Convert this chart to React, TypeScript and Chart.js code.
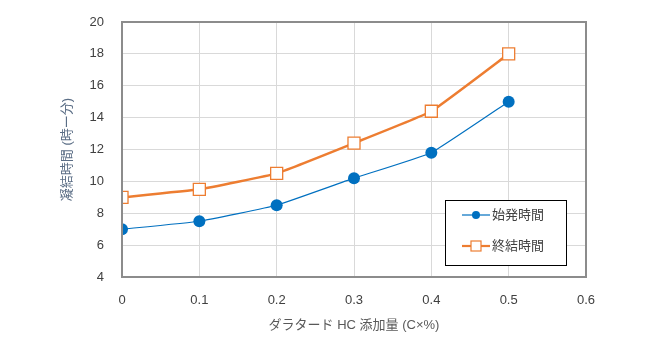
import React, { useEffect, useRef } from "react";
import { Chart, registerables } from "chart.js";

Chart.register(...registerables);

const xValues = [0, 0.1, 0.2, 0.3, 0.4, 0.5];
const initialSet = [7.0, 7.5, 8.5, 10.2, 11.8, 15.0];
const finalSet = [9.0, 9.5, 10.5, 12.4, 14.4, 18.0];
const seriesNames = ["始発時間", "終結時間"];
const xTitle = "ダラタード HC 添加量 (C×%)";
const yTitle = "凝結時間 (時ー分)";

const FONT = "'Liberation Sans', 'Noto Sans CJK JP', sans-serif";
const BLUE = "#0070C0";
const ORANGE = "#ED7D31";

const borderPlugin = {
  id: "plotBorder",
  afterDraw(chart: any) {
    const { ctx, chartArea } = chart;
    ctx.save();
    ctx.strokeStyle = "#8c8c8c";
    ctx.lineWidth = 2;
    ctx.strokeRect(chartArea.left, chartArea.top, chartArea.right - chartArea.left, chartArea.bottom - chartArea.top);
    ctx.restore();
  },
};

const legendPlugin = {
  id: "boxLegend",
  afterDraw(chart: any) {
    const { ctx } = chart;
    const x = 445, y = 200, w = 121, h = 65;
    ctx.save();
    ctx.fillStyle = "#ffffff";
    ctx.fillRect(x, y, w, h);
    ctx.strokeStyle = "#000000";
    ctx.lineWidth = 1;
    ctx.strokeRect(x + 0.5, y + 0.5, w, h);
    ctx.font = `13px ${FONT}`;
    ctx.textBaseline = "middle";
    const y1 = y + 15, y2 = y + 46;
    ctx.strokeStyle = BLUE;
    ctx.lineWidth = 1.2;
    ctx.beginPath();
    ctx.moveTo(462, y1);
    ctx.lineTo(490, y1);
    ctx.stroke();
    ctx.fillStyle = BLUE;
    ctx.beginPath();
    ctx.arc(476, y1, 4, 0, Math.PI * 2);
    ctx.fill();
    ctx.fillStyle = "#404040";
    ctx.fillText(seriesNames[0], 492, y1);
    ctx.strokeStyle = ORANGE;
    ctx.lineWidth = 2.2;
    ctx.beginPath();
    ctx.moveTo(462, y2);
    ctx.lineTo(490, y2);
    ctx.stroke();
    ctx.fillStyle = "#ffffff";
    ctx.fillRect(471, y2 - 5, 10, 10);
    ctx.lineWidth = 1.2;
    ctx.strokeRect(471, y2 - 5, 10, 10);
    ctx.fillStyle = "#404040";
    ctx.fillText(seriesNames[1], 492, y2);
    ctx.restore();
  },
};

export default function App() {
  const ref = useRef<HTMLCanvasElement>(null);
  useEffect(() => {
    if (!ref.current) return;
    const chart = new Chart(ref.current, {
      type: "line",
      data: {
        datasets: [
          {
            label: seriesNames[0],
            data: xValues.map((x, i) => ({ x, y: initialSet[i] })),
            borderColor: BLUE,
            backgroundColor: BLUE,
            borderWidth: 1.2,
            pointStyle: "circle",
            pointRadius: 6,
            pointBorderWidth: 0,
            pointBackgroundColor: BLUE,
            tension: 0.1,
          },
          {
            label: seriesNames[1],
            data: xValues.map((x, i) => ({ x, y: finalSet[i] })),
            borderColor: ORANGE,
            backgroundColor: "#ffffff",
            borderWidth: 2.5,
            pointStyle: "rect",
            pointRadius: 8.5,
            pointBorderWidth: 1.3,
            pointBackgroundColor: "#ffffff",
            pointBorderColor: ORANGE,
            tension: 0.1,
          },
        ],
      },
      options: {
        animation: false,
        responsive: false,
        devicePixelRatio: 1,
        layout: { padding: { top: 22, right: 84, left: 60, bottom: 18 } },
        plugins: { legend: { display: false }, tooltip: { enabled: false } },
        scales: {
          x: {
            type: "linear",
            min: 0,
            max: 0.6,
            ticks: {
              stepSize: 0.1,
              color: "#404040",
              font: { family: FONT, size: 13 },
              padding: 16,
              callback: (v: any) => String(Math.round(Number(v) * 10) / 10),
            },
            grid: { color: "#d9d9d9", lineWidth: 1, drawTicks: false },
            border: { display: false },
            title: {
              display: true,
              text: xTitle,
              color: "#595959",
              font: { family: FONT, size: 13 },
              padding: 0,
            },
            afterFit: (s: any) => {
              s.height = 56;
              s.paddingLeft = 0;
              s.paddingRight = 0;
            },
          },
          y: {
            min: 4,
            max: 20,
            ticks: {
              stepSize: 2,
              color: "#404040",
              font: { family: FONT, size: 13 },
              padding: 18,
            },
            grid: { color: "#d9d9d9", lineWidth: 1, drawTicks: false },
            border: { display: false },
            title: {
              display: true,
              text: yTitle,
              color: "#5b6e86",
              font: { family: FONT, size: 13 },
              padding: 0,
            },
            afterFit: (s: any) => {
              s.width = 62;
              s.paddingTop = 0;
              s.paddingBottom = 0;
            },
          },
        },
      },
      plugins: [borderPlugin, legendPlugin],
    });
    return () => chart.destroy();
  }, []);
  return (
    <div style={{ position: "fixed", left: 0, top: 0, width: 670, height: 351, background: "#fff" }}>
      <canvas ref={ref} width={670} height={351} style={{ width: 670, height: 351 }} />
    </div>
  );
}
